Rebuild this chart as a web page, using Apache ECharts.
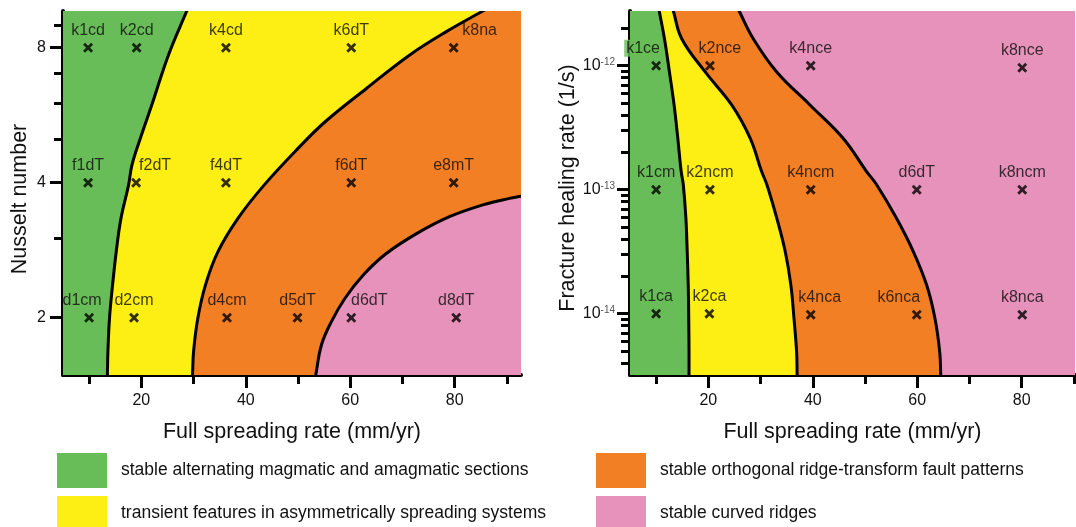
<!DOCTYPE html>
<html>
<head>
<meta charset="utf-8">
<script src="https://cdn.jsdelivr.net/npm/echarts@6/dist/echarts.min.js"></script>
<style>
html,body{margin:0;padding:0;background:#fff}
#chart{width:1076px;height:527px}
</style>
</head>
<body>
<div id="chart"></div>
<script>
// regimes (legend order) and their colours
var regimes = ['stable alternating magmatic and amagmatic sections',
               'transient features in asymmetrically spreading systems',
               'stable orthogonal ridge-transform fault patterns',
               'stable curved ridges'];
var regimeColors = ['#69bd58', '#fdee14', '#f37f25', '#e692bb'];

// ---- left panel: Nusselt number vs full spreading rate ----
var rateMinA = 5, rateMaxA = 92.7;
var nuMin = 1.49, nuMax = 9.66;
var rateTicks = [20, 40, 60, 80];
var rateMinorTicks = [10, 30, 50, 70, 90];
var nuTicks = [2, 4, 8];
var nuMinorTicks = [3, 5, 6, 7, 9];

// green / yellow boundary (top -> bottom)
var bndA1Rate = [28.7, 25.2, 22.0, 19.8, 18.2, 17.55, 16.1, 15.2, 14.5, 13.9, 13.6, 13.5];
var bndA1Nu   = [9.66, 7.71, 5.96, 5.02, 4.38, 3.95, 3.33, 2.81, 2.37, 1.99, 1.68, 1.49];
// yellow / orange boundary (top -> bottom)
var bndA2Rate = [85.4, 78.4, 71.4, 63.1, 55.2, 50.0, 43.5, 38.5, 34.7, 32.3, 30.8, 30.0, 29.8];
var bndA2Nu   = [9.66, 8.69, 7.71, 6.49, 5.47, 4.77, 3.95, 3.33, 2.81, 2.37, 1.99, 1.68, 1.49];
// orange / pink boundary (bottom -> right edge)
var bndA3Rate = [53.4, 54.5, 56.4, 59.0, 62.5, 66.9, 72.7, 79.0, 85.4, 90.5, 92.7];
var bndA3Nu   = [1.49, 1.74, 1.96, 2.21, 2.49, 2.78, 3.08, 3.36, 3.57, 3.69, 3.73];

// model runs
var runsA     = ['k1cd','k2cd','k4cd','k6dT','k8na','f1dT','f2dT','f4dT','f6dT','e8mT','d1cm','d2cm','d4cm','d5dT','d6dT','d8dT'];
var runsARate = [9.8, 19.1, 36.2, 60.2, 79.8, 9.8, 19.0, 36.2, 60.2, 79.8, 10.0, 18.6, 36.4, 49.9, 60.2, 80.3];
var runsANu   = [8, 8, 8, 8, 8, 4, 4, 4, 4, 4, 2, 2, 2, 2, 2, 2];

// ---- right panel: fracture healing rate vs full spreading rate ----
var rateMinB = 5, rateMaxB = 90.2;
var healMin = 3.2e-15, healMax = 2.76e-12;
var healTicks = [1e-14, 1e-13, 1e-12];
var healMinorTicks = [4e-15, 5e-15, 6e-15, 7e-15, 8e-15, 9e-15,
                      2e-14, 3e-14, 4e-14, 5e-14, 6e-14, 7e-14, 8e-14, 9e-14,
                      2e-13, 3e-13, 4e-13, 5e-13, 6e-13, 7e-13, 8e-13, 9e-13, 2e-12];

// the three boundaries share the same heal-rate levels (top -> bottom)
var healLevels = [2.76e-12, 1.65e-12, 8.9e-13, 4.8e-13, 2.6e-13, 1.4e-13, 1.1e-13, 5.9e-14, 3.2e-14, 1.7e-14, 9.1e-15, 4.9e-15, 3.2e-15];
var bndB1Rate  = [10.6, 11.6, 12.55, 13.45, 14.15, 14.8, 15.2, 15.7, 15.95, 16.15, 16.25, 16.3, 16.3];
var bndB2Rate  = [13.3, 14.9, 19.4, 24.5, 28.0, 30.2, 31.2, 33.1, 34.7, 35.8, 36.4, 36.9, 37.0];
var bndB3Rate  = [25.9, 28.6, 33.1, 39.5, 45.8, 50.3, 52.2, 56.0, 59.2, 61.8, 63.4, 64.3, 64.5];

var runsB     = ['k1ce','k2nce','k4nce','k8nce','k1cm','k2ncm','k4ncm','d6dT','k8ncm','k1ca','k2ca','k4nca','k6nca','k8nca'];
var runsBRate = [10.0, 20.3, 39.6, 80.1, 10.0, 20.3, 39.6, 59.9, 80.1, 10.0, 20.2, 39.6, 59.9, 80.1];
var runsBHeal = [1e-12, 1e-12, 1e-12, 0.96e-12, 1e-13, 1e-13, 1e-13, 1e-13, 1e-13, 1e-14, 1e-14, 0.98e-14, 0.98e-14, 0.98e-14];

// label nudges (px) where the figure moved a label sideways
var shiftA = {k8na: 26, f2dT: 19, d6dT: 18, d1cm: -7};
var shiftB = {k1ce: -13, k2nce: 10, k4nca: 9, k6nca: -18};

var FONT = 'Liberation Sans, Arial, sans-serif';
var SMOOTH = 0.4;
var lg2 = Math.log2, lg10 = Math.log10;

function pairs(xs, ys, f) {
    return xs.map(function (x, i) { return [x, f(ys[i])]; });
}

// carry a boundary a little past both plot edges so that the smoothed
// stroke and the smoothed fill share the same shape inside the plot
function extend(c) {
    var n = c.length, f = c[0], s = c[1], l = c[n - 1], p = c[n - 2];
    function ext(a, b, k) { return [a[0] + (a[0] - b[0]) * k, a[1] + (a[1] - b[1]) * k]; }
    return [ext(f, s, 6), ext(f, s, 2)].concat(c, [ext(l, p, 2), ext(l, p, 6)]);
}

function clipTo(params, children) {
    var cs = params.coordSys;
    return {type: 'group', children: children,
            clipPath: {type: 'rect', shape: {x: cs.x, y: cs.y, width: cs.width, height: cs.height}}};
}

// filled region as a polygon in axis coordinates
function region(idx, ax, pts, smooth) {
    return {
        type: 'custom', name: regimes[idx], xAxisIndex: ax, yAxisIndex: ax,
        coordinateSystem: 'cartesian2d', silent: true,
        itemStyle: {color: regimeColors[idx]},
        data: [pts[0]],
        renderItem: function (params, api) {
            return clipTo(params, [{
                type: 'polygon',
                shape: {points: pts.map(function (p) { return api.coord(p); }), smooth: smooth},
                style: {fill: regimeColors[idx], stroke: null}
            }]);
        }
    };
}

function boundary(ax, pts) {
    return {
        type: 'custom', xAxisIndex: ax, yAxisIndex: ax, coordinateSystem: 'cartesian2d',
        silent: true, z: 3, data: [pts[0]],
        renderItem: function (params, api) {
            return clipTo(params, [{
                type: 'polyline',
                shape: {points: pts.map(function (p) { return api.coord(p); }), smooth: SMOOTH},
                style: {stroke: '#000', lineWidth: 3, fill: null}
            }]);
        }
    };
}

var xMark = 'path://M0,2L2,0L5,3L8,0L10,2L7,5L10,8L8,10L5,7L2,10L0,8L3,5Z';

function runs(ax, names, xs, ys, f, shift) {
    return {
        type: 'scatter', xAxisIndex: ax, yAxisIndex: ax, z: 4, silent: true,
        symbol: xMark, symbolSize: 10, itemStyle: {color: '#000'},
        data: names.map(function (n, i) {
            var item = {name: n, value: [xs[i], f(ys[i])],
                        label: {offset: [shift[n] || 0, 0]}};
            if (n === 'k1ce') {
                item.label.backgroundColor = regimeColors[0];
                item.label.padding = [1, 2, 0, 2];
            }
            return item;
        }),
        label: {show: true, position: 'top', distance: 4, formatter: '{b}',
                fontSize: 16, color: '#0d0d0d', fontFamily: FONT}
    };
}

var A = {x0: rateMinA, x1: rateMaxA, y0: lg2(nuMin), y1: lg2(nuMax)};
var B = {x0: rateMinB, x1: rateMaxB, y0: lg10(healMin), y1: lg10(healMax)};

var a1 = extend(pairs(bndA1Rate, bndA1Nu, lg2));
var a2 = extend(pairs(bndA2Rate, bndA2Nu, lg2));
var a3 = extend(pairs(bndA3Rate, bndA3Nu, lg2));
var b1 = extend(pairs(bndB1Rate, healLevels, lg10));
var b2 = extend(pairs(bndB2Rate, healLevels, lg10));
var b3 = extend(pairs(bndB3Rate, healLevels, lg10));

// close a top->bottom boundary through far-away left corners
function leftOf(c, P) { return c.concat([[P.x0 - 200, P.y0 - 20], [P.x0 - 200, P.y1 + 20]]); }
// close a bottom->right boundary through a far-away bottom-right corner
function belowRight(c, P) { return c.concat([[P.x1 + 200, P.y0 - 20]]); }
function box(P) { return [[P.x0, P.y0], [P.x1, P.y0], [P.x1, P.y1], [P.x0, P.y1]]; }

function axisX(grid, P, ticks, minor) {
    return [{
        gridIndex: grid, type: 'value', min: P.x0, max: P.x1, position: 'bottom',
        name: 'Full spreading rate (mm/yr)', nameLocation: 'middle', nameGap: 46,
        nameTextStyle: {fontSize: 21.5, color: '#111', fontFamily: FONT},
        axisLine: {lineStyle: {color: '#000', width: 4}},
        axisTick: {customValues: ticks, length: 13, lineStyle: {color: '#000', width: 3}},
        axisLabel: {customValues: ticks, fontSize: 16, margin: 18, color: '#111', fontFamily: FONT},
        splitLine: {show: false}
    }, {
        gridIndex: grid, type: 'value', min: P.x0, max: P.x1, position: 'bottom',
        axisLine: {show: false},
        axisTick: {customValues: minor, length: 9, lineStyle: {color: '#000', width: 3}},
        axisLabel: {show: false}, splitLine: {show: false}
    }];
}

function axisY(grid, P, ticks, minor, fmt, name, gap, margin, namePad) {
    return [{
        gridIndex: grid, type: 'value', min: P.y0, max: P.y1, position: 'left',
        name: name, nameLocation: 'middle', nameGap: gap,
        nameTextStyle: {fontSize: 21.5, color: '#111', fontFamily: FONT, padding: namePad},
        axisLine: {lineStyle: {color: '#000', width: 4}},
        axisTick: {customValues: ticks, length: 13, lineStyle: {color: '#000', width: 3}},
        axisLabel: {customValues: ticks, formatter: fmt, fontSize: 16, margin: margin, color: '#111',
                    fontFamily: FONT,
                    rich: {b: {fontSize: 16, color: '#111', fontFamily: FONT},
                           s: {fontSize: 10, color: '#555', fontFamily: FONT, verticalAlign: 'top', lineHeight: 10}}},
        splitLine: {show: false}
    }, {
        gridIndex: grid, type: 'value', min: P.y0, max: P.y1, position: 'left',
        axisLine: {show: false},
        axisTick: {customValues: minor, length: 9, lineStyle: {color: '#000', width: 3}},
        axisLabel: {show: false}, splitLine: {show: false}
    }];
}

var xAx = axisX(0, A, rateTicks, rateMinorTicks).concat(axisX(1, B, rateTicks, rateMinorTicks));
var yAx = axisY(0, A, nuTicks.map(lg2), nuMinorTicks.map(lg2),
                function (v) { return String(Math.round(Math.pow(2, v))); },
                'Nusselt number', 32, 17, [0, 12, 0, 0])
    .concat(axisY(1, B, healTicks.map(lg10), healMinorTicks.map(lg10),
                function (v) { return '{b|10}{s|' + Math.round(v) + '}'; },
                'Fracture healing rate (1/s)', 50, 15, [0, 0, 0, 10]));

// one legend box per swatch so the 2 x 2 layout is fixed
function legendItem(idx, left, top) {
    return {
        data: [regimes[idx]], left: left, top: top, padding: 0, icon: 'rect',
        itemWidth: 50, itemHeight: 35, selectedMode: false,
        textStyle: {fontSize: 17.5, color: '#111', fontFamily: FONT, padding: [0, 0, 0, 9]}
    };
}

var mycharts = echarts.init(document.getElementById('chart'));

var option = {
    animation: false,
    backgroundColor: '#fff',
    textStyle: {fontFamily: FONT},
    grid: [
        {left: 63, top: 11, width: 458, height: 364, outerBoundsMode: 'none'},
        {left: 630, top: 11, width: 445, height: 364, outerBoundsMode: 'none'}
    ],
    xAxis: xAx,
    yAxis: yAx,
    legend: [legendItem(0, 57, 453), legendItem(1, 57, 496), legendItem(2, 596, 453), legendItem(3, 596, 496)],
    series: [
        // left panel fills, painted back to front
        region(2, 0, box(A), 0),
        region(3, 0, belowRight(a3, A), SMOOTH),
        region(1, 0, leftOf(a2, A), SMOOTH),
        region(0, 0, leftOf(a1, A), SMOOTH),
        boundary(0, a1), boundary(0, a2), boundary(0, a3),
        runs(0, runsA, runsARate, runsANu, lg2, shiftA),
        // right panel
        region(3, 2, box(B), 0),
        region(2, 2, leftOf(b3, B), SMOOTH),
        region(1, 2, leftOf(b2, B), SMOOTH),
        region(0, 2, leftOf(b1, B), SMOOTH),
        boundary(2, b1), boundary(2, b2), boundary(2, b3),
        runs(2, runsB, runsBRate, runsBHeal, lg10, shiftB)
    ]
};
mycharts.setOption(option);
</script>
</body>
</html>
